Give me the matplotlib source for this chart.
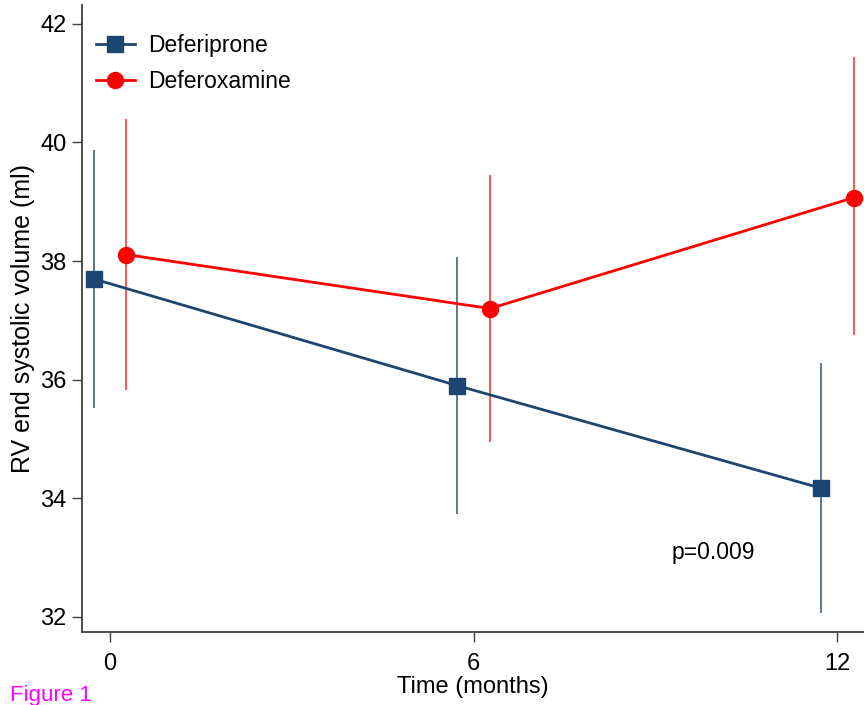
import matplotlib.pyplot as plt

# time points (months) and group means with error bar limits
months = [0, 6, 12]
defer_mean = [37.70, 35.90, 34.17]
defer_low = [35.52, 33.74, 32.07]
defer_high = [39.87, 38.07, 36.28]
deferox_mean = [38.11, 37.20, 39.07]
deferox_low = [35.82, 34.95, 36.75]
deferox_high = [40.39, 39.45, 41.44]

blue = '#1c4670'
red = '#ff0000'
plt.rcParams['font.family'] = ['Liberation Sans', 'DejaVu Sans']

fig = plt.figure(figsize=(8.64, 7.05), dpi=100)
ax = fig.add_axes([0.095, 0.104, 0.905, 0.889])

off = 0.27
xb = [m - off for m in months]
xr = [m + off for m in months]

ax.vlines(xb, defer_low, defer_high, color=blue, lw=1.2, alpha=0.85, zorder=2)
ax.vlines(xr, deferox_low, deferox_high, color=red, lw=1.1, alpha=0.85, zorder=2)
ax.plot(xb, defer_mean, color=blue, lw=2, marker='s', ms=11.5, label='Deferiprone', zorder=3)
ax.plot(xr, deferox_mean, color=red, lw=2, marker='o', ms=11.5, label='Deferoxamine', zorder=3)

ax.set_xlim(-0.46, 12.44)
ax.set_ylim(31.75, 42.32)
ax.set_xticks(months)
ax.set_yticks([32, 34, 36, 38, 40, 42])
for s in ['top', 'right']:
    ax.spines[s].set_visible(False)
for s in ['left', 'bottom']:
    ax.spines[s].set_color('#404040')
    ax.spines[s].set_linewidth(1.3)
ax.tick_params(direction='out', length=7, width=1, color='#404040', labelsize=17, pad=4)
ax.tick_params(axis='x', pad=8)

ax.set_xlabel('Time (months)', fontsize=17, labelpad=1)
ax.set_ylabel('RV end systolic volume (ml)', fontsize=18, labelpad=4)

ax.text(9.27, 33.08, 'p=0.009', fontsize=16.5, va='center', ha='left')

ax.legend(loc='upper left', frameon=False, fontsize=16.5, handlelength=1.7,
          borderaxespad=0.2, labelspacing=0.55, handletextpad=0.6,
          bbox_to_anchor=(0.0, 0.975))

fig.text(0.012, 0.006, 'Figure 1', color='#ff00ff', fontsize=16)

fig.savefig('out.png', dpi=100)
